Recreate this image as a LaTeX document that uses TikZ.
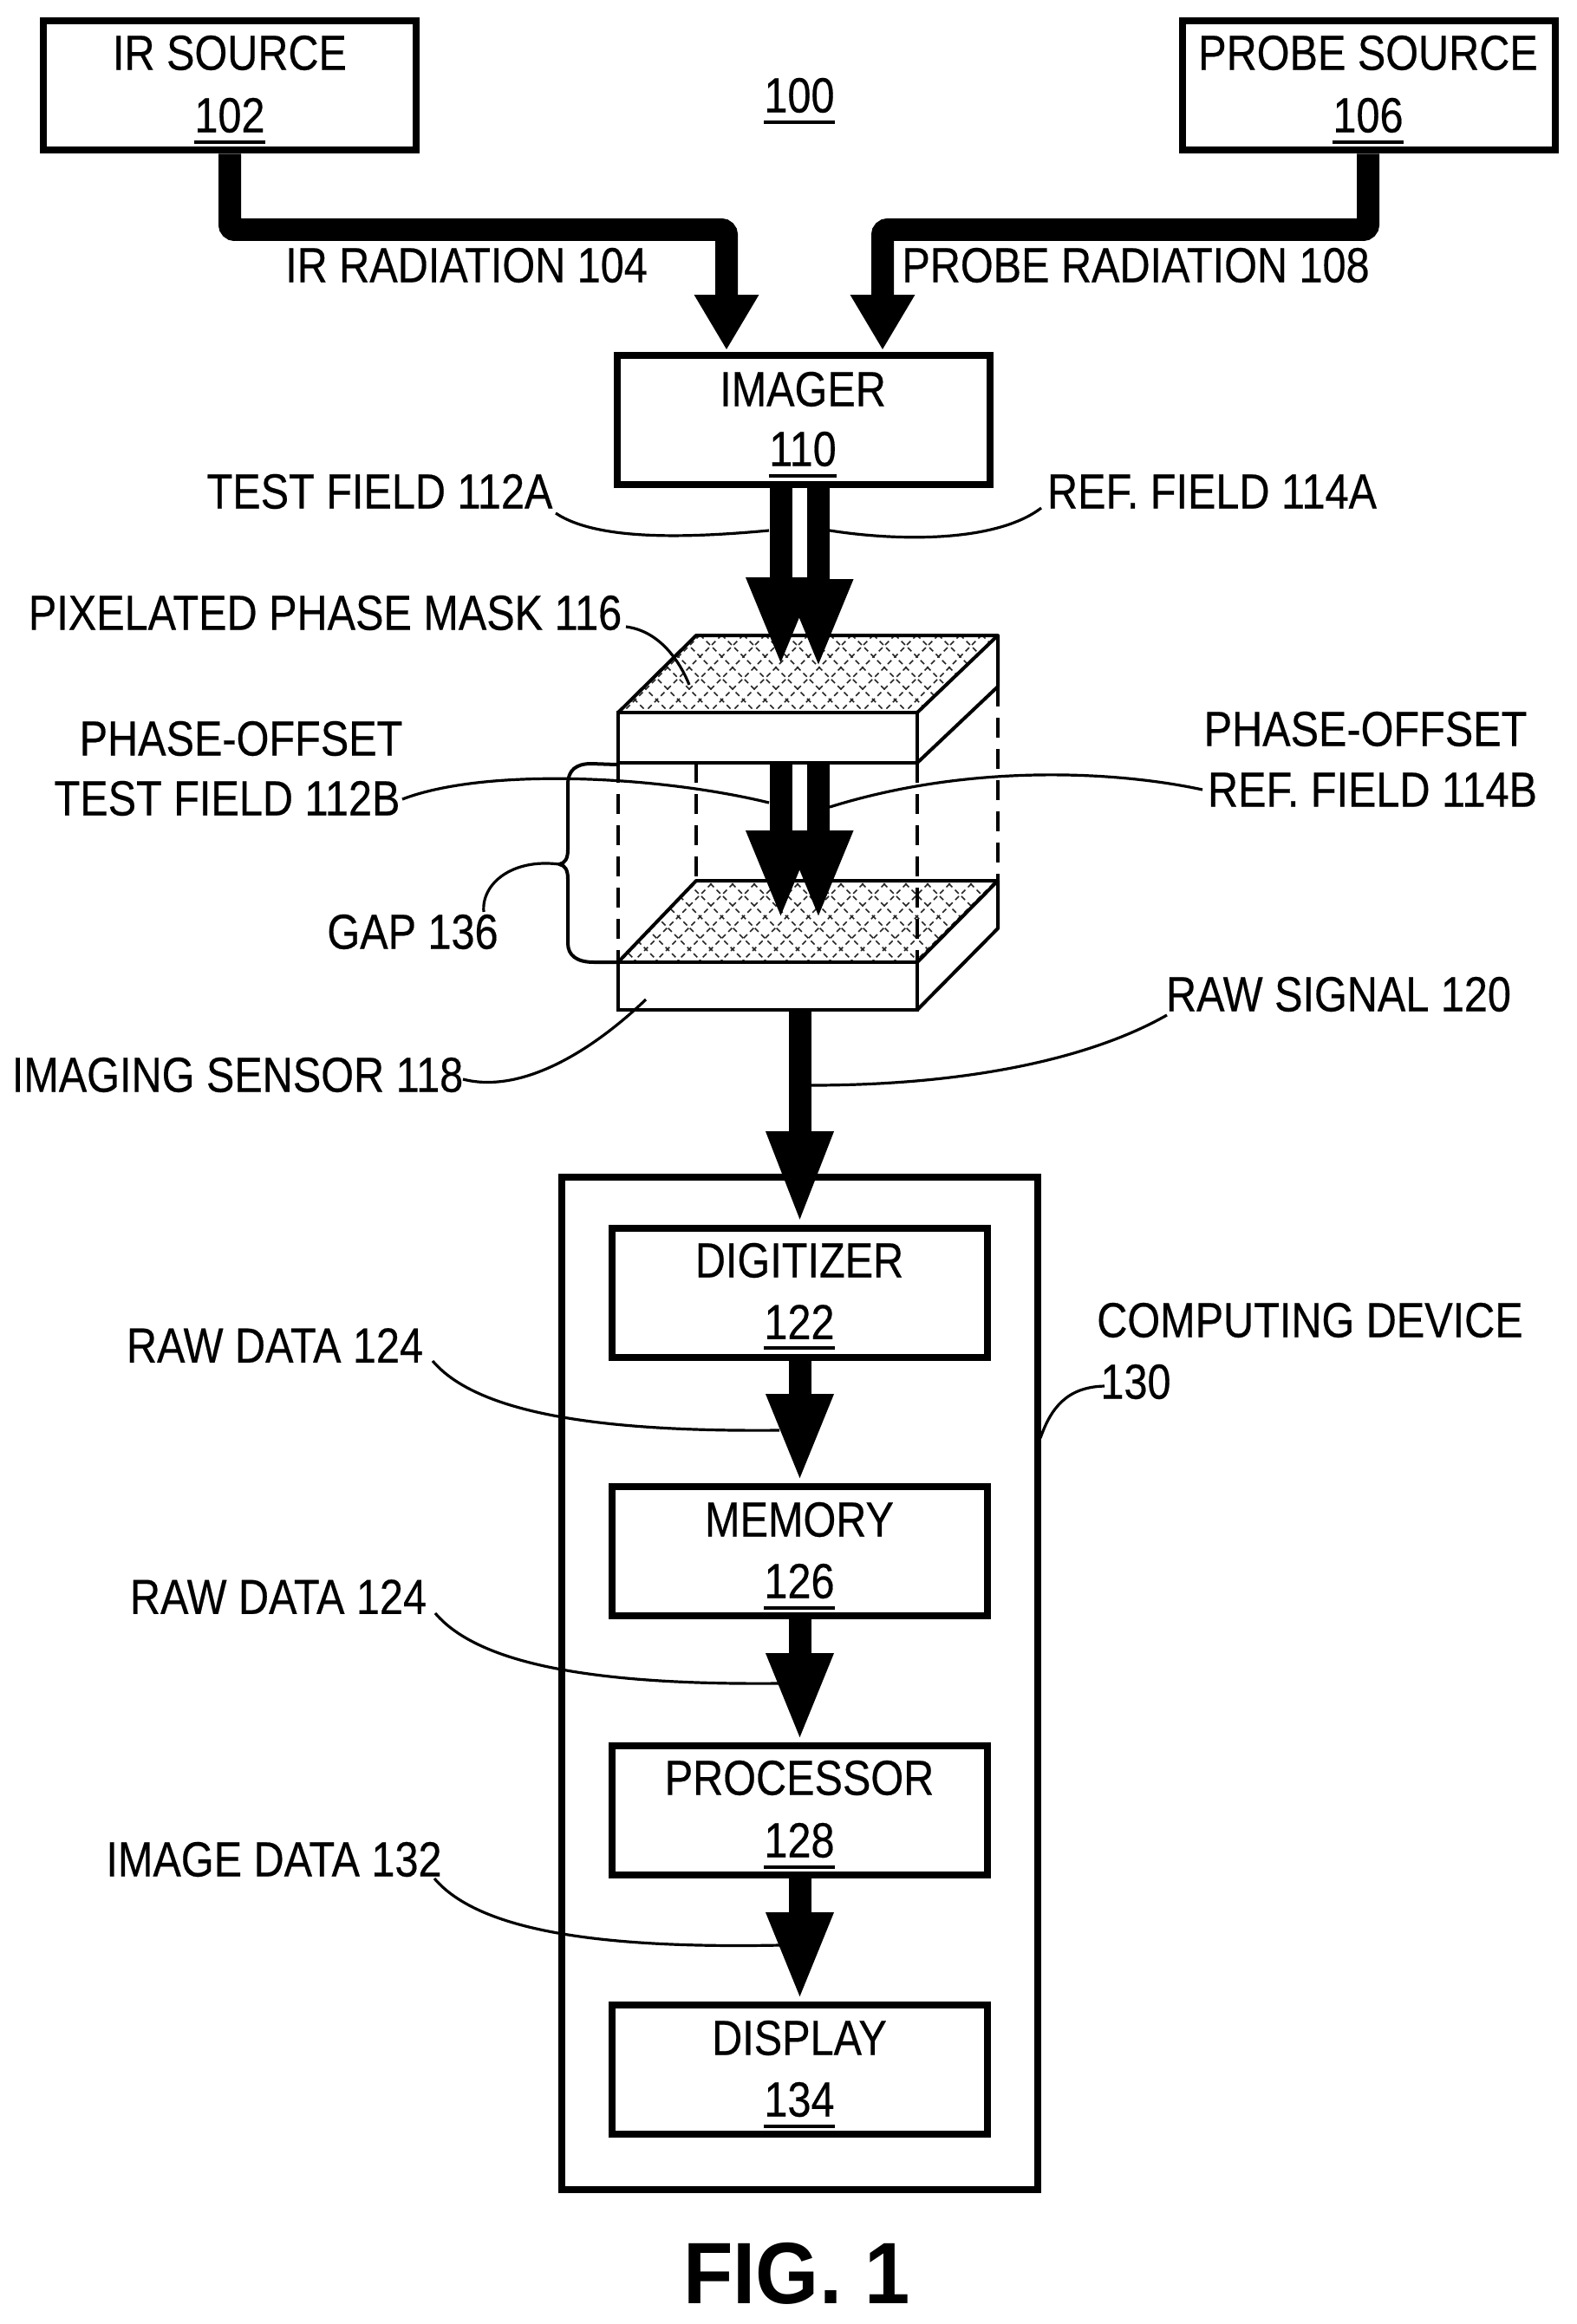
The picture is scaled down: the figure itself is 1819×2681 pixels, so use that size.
\documentclass[tikz,border=0pt]{standalone}
\usepackage{graphicx}
\usepackage{fontspec}
\setmainfont{Liberation Sans}
\usetikzlibrary{arrows.meta}
\newcommand{\lbl}[1]{\scalebox{1}[1.17]{#1}}
\tikzset{
  box/.style={draw=black,line width=4pt,fill=white,inner sep=0pt,minimum width=215pt,minimum height=74.5pt},
  txt/.style={inner sep=0pt,font=\fontsize{24.3}{24.3}\selectfont\addfontfeature{FakeBold=0.4}},
  uline/.style={line width=2pt},
  beam/.style={draw=black,line width=13pt,rounded corners=3pt},
  hshort/.style={-{Triangle[length=32pt,width=35pt,sep=0pt]}},
  hlong/.style={-{Triangle[length=51.5pt,width=35pt,sep=0pt]}},
  hdouble/.style={-{Triangle[length=52pt,width=36pt,sep=0pt]}},
  leader/.style={line width=1.6pt},
  edge3d/.style={line width=2pt,line join=round},
  dash3d/.style={line width=1.6pt,dash pattern=on 11.5pt off 6.5pt},
  face/.style={draw=black,line width=2pt,fill=white,inner sep=0pt,minimum width=172.5pt},
  hatchline/.style={line width=.8pt,black!85,dash pattern=on 3pt off 2.2pt}
}
\begin{document}
\begin{tikzpicture}[x=.5pt,y=-.5pt]
\useasboundingbox (0,0) rectangle (1819,2681);
\fill[white] (0,0) rectangle (1819,2681);
% named free ends
\coordinate (irtip) at (838,404);
\coordinate (irbend) at (265,265);
\coordinate (prtip) at (1018,404);
\coordinate (prbend) at (1578,265);
\coordinate (tf) at (900.5,770);
\coordinate (rf) at (944,772);
\coordinate (tfb) at (900.5,1062);
\coordinate (rfb) at (944,1062);
\coordinate (tfs) at (900.5,880);
\coordinate (rfs) at (944,880);
% boxes
\node[box] (ir) at (265,99) {};
\node[box] (probe) at (1579,99) {};
\node[box] (imager) at (926.5,484.5) {};
\node[box,line width=3.6pt,minimum width=274.5pt,minimum height=584pt] (comp) at (922.5,1942) {};
\node[box,minimum width=216.5pt] (digit) at (922.5,1491.5) {};
\node[box,minimum width=216.5pt] (memory) at (922.5,1789.5) {};
\node[box,minimum width=216.5pt] (proc) at (922.5,2088.5) {};
\node[box,minimum width=216.5pt] (disp) at (922.5,2387.5) {};
% box texts
\node[txt] (irt) at (265,61) {\lbl{IR SOURCE}};
\node[txt] (irn) at (265,133) {\lbl{102}};
\node[txt] (prt) at (1578,61) {\lbl{PROBE SOURCE}};
\node[txt] (prn) at (1578,133) {\lbl{106}};
\node[txt] (sys) at (922,110) {\lbl{100}};
\node[txt] (imt) at (926,449) {\lbl{IMAGER}};
\node[txt] (imn) at (926,518) {\lbl{110}};
\node[txt] (dit) at (922,1454) {\lbl{DIGITIZER}};
\node[txt] (din) at (922,1525) {\lbl{122}};
\node[txt] (met) at (922,1753) {\lbl{MEMORY}};
\node[txt] (men) at (922,1824) {\lbl{126}};
\node[txt] (prct) at (922,2051) {\lbl{PROCESSOR}};
\node[txt] (prcn) at (922,2123) {\lbl{128}};
\node[txt] (dst) at (922,2351) {\lbl{DISPLAY}};
\node[txt] (dsn) at (922,2422) {\lbl{134}};
\foreach \n in {irn,prn,sys,imn,din,men,prcn,dsn}{
  \draw[uline] ([yshift=-5pt]\n.south west) -- ([yshift=-5pt]\n.south east);
}
% outside labels
\node[txt] (irr) at (538,306) {\lbl{IR RADIATION 104}};
\node[txt] (prr) at (1310,306) {\lbl{PROBE RADIATION 108}};
\node[txt] (tfa) at (438,567) {\lbl{TEST FIELD 112A}};
\node[txt] (rfa) at (1398,567) {\lbl{REF. FIELD 114A}};
\node[txt] (pix) at (375,707) {\lbl{PIXELATED PHASE MASK 116}};
\node[txt] (po1) at (278,852) {\lbl{PHASE-OFFSET}};
\node[txt] (tfbl) at (262,921) {\lbl{TEST FIELD 112B}};
\node[txt] (po2) at (1575,841) {\lbl{PHASE-OFFSET}};
\node[txt] (rfbl) at (1583,911) {\lbl{REF. FIELD 114B}};
\node[txt] (gap) at (476,1075) {\lbl{GAP 136}};
\node[txt] (raws) at (1544,1147) {\lbl{RAW SIGNAL 120}};
\node[txt] (imgs) at (274,1240) {\lbl{IMAGING SENSOR 118}};
\node[txt] (rd1) at (317,1552) {\lbl{RAW DATA 124}};
\node[txt] (rd2) at (321,1842) {\lbl{RAW DATA 124}};
\node[txt] (idl) at (316,2145) {\lbl{IMAGE DATA 132}};
\node[txt] (cd1) at (1511,1523) {\lbl{COMPUTING DEVICE}};
\node[txt] (cd2) at (1310,1594) {\lbl{130}};
\node[inner sep=0pt,font=\bfseries\fontsize{47}{47}\selectfont] (fig) at (919,2623) {\scalebox{1}[1.07]{FIG. 1}};
% sensor
\begin{scope}
\clip (803,1016) -- (1151,1016) -- (1058,1110) -- (713,1110) -- cycle;
\foreach \k in {0,25,...,825}{
  \draw[hatchline] ({1440+\k-600},600) -- ({1440+\k-1300},1300);
  \draw[hatchline] ({-400+\k+600},600) -- ({-400+\k+1300},1300);
}
\end{scope}
\draw[edge3d] (803,1016) -- (1151,1016) -- (1058,1110) -- (713,1110) -- cycle;
\draw[edge3d] (1151,1016) -- (1151,1071) -- (1058,1165);
\node[face,minimum height=27.5pt] (sensor) at (885.5,1137.5) {};
% dashed gap lines
\draw[dash3d] (713,880) -- (713,1110);
\draw[dash3d] (803,880) -- (803,1016);
\draw[dash3d] (1058,880) -- (1058,1108);
\draw[dash3d] (1151,792) -- (1151,1016);
% mask
\begin{scope}
\clip (803,733) -- (1151,733) -- (1058,822) -- (713,822) -- cycle;
\foreach \k in {0,25,...,825}{
  \draw[hatchline] ({1440+\k-600},600) -- ({1440+\k-1300},1300);
  \draw[hatchline] ({-400+\k+600},600) -- ({-400+\k+1300},1300);
}
\end{scope}
\draw[edge3d] (803,733) -- (1151,733) -- (1058,822) -- (713,822) -- cycle;
\draw[edge3d] (1151,733) -- (1151,792) -- (1058,880);
\node[face,minimum height=29pt] (mask) at (885.5,851) {};
% beams
\draw[beam,hshort] (ir.south) -- (irbend) -| (irtip);
\draw[beam,hshort] (probe.south -| prbend) -- (prbend) -| (prtip);
\draw[beam,hdouble,rounded corners=0pt] (imager.south -| tf) -- (tf);
\draw[beam,hdouble,rounded corners=0pt] (imager.south -| rf) -- (rf);
\draw[beam,hdouble,rounded corners=0pt] (tfs) -- (tfb);
\draw[beam,hdouble,rounded corners=0pt] (rfs) -- (rfb);
\draw[beam,-{Triangle[length=54pt,width=35pt,sep=0pt]},rounded corners=0pt] (sensor.south -| digit.north) -- (digit.north);
\draw[beam,hlong] (digit.south) -- (memory.north);
\draw[beam,hlong] (memory.south) -- (proc.north);
\draw[beam,hlong] (proc.south) -- (disp.north);
% gap brace
\coordinate (brtop) at (mask.south west);
\coordinate (brbot) at (713,1110);
\coordinate (brtip) at (645,997);
\draw[edge3d] (brtop) -- (682,881) .. controls (665,881) and (655,888) .. (655,905) -- (655,980) .. controls (655,990) and (652,996) .. (brtip) .. controls (652,998) and (655,1004) .. (655,1014) -- (655,1088) .. controls (655,1102) and (665,1110) .. (685,1110) -- (brbot);
% leaders
\coordinate (e1) at (641,592); \coordinate (e1b) at (887,612);
\draw[leader] (e1) .. controls (690,625) and (800,620) .. (e1b);
\coordinate (e2) at (1201,586); \coordinate (e2b) at (957,612);
\draw[leader] (e2) .. controls (1150,625) and (1040,625) .. (e2b);
\coordinate (e3) at (722,723); \coordinate (e3b) at (795,790);
\draw[leader] (e3) .. controls (762,728) and (785,765) .. (e3b);
\coordinate (e4) at (464,922); \coordinate (e4b) at (887,926);
\draw[leader] (e4) .. controls (560,885) and (760,895) .. (e4b);
\coordinate (e5) at (1387,911); \coordinate (e5b) at (957,931);
\draw[leader] (e5) .. controls (1290,890) and (1120,880) .. (e5b);
\coordinate (e6) at (558,1052);
\draw[leader] (brtip) .. controls (590,990) and (555,1020) .. (e6);
\coordinate (e7) at (534,1245); \coordinate (e7b) at (745,1153);
\draw[leader] (e7) .. controls (600,1262) and (680,1215) .. (e7b);
\coordinate (e8) at (1346,1171); \coordinate (e8b) at (935,1252);
\draw[leader] (e8) .. controls (1260,1220) and (1120,1252) .. (e8b);
\coordinate (e9) at (499,1570); \coordinate (e9b) at (899,1650);
\draw[leader] (e9) .. controls (550,1630) and (690,1652) .. (e9b);
\coordinate (e10) at (502,1861); \coordinate (e10b) at (899,1942);
\draw[leader] (e10) .. controls (553,1921) and (690,1944) .. (e10b);
\coordinate (e11) at (501,2167); \coordinate (e11b) at (899,2244);
\draw[leader] (e11) .. controls (552,2227) and (690,2248) .. (e11b);
\coordinate (e12) at (1274,1599); \coordinate (e12b) at (1200,1659);
\draw[leader] (e12) .. controls (1230,1600) and (1212,1625) .. (e12b);
\end{tikzpicture}
\end{document}
